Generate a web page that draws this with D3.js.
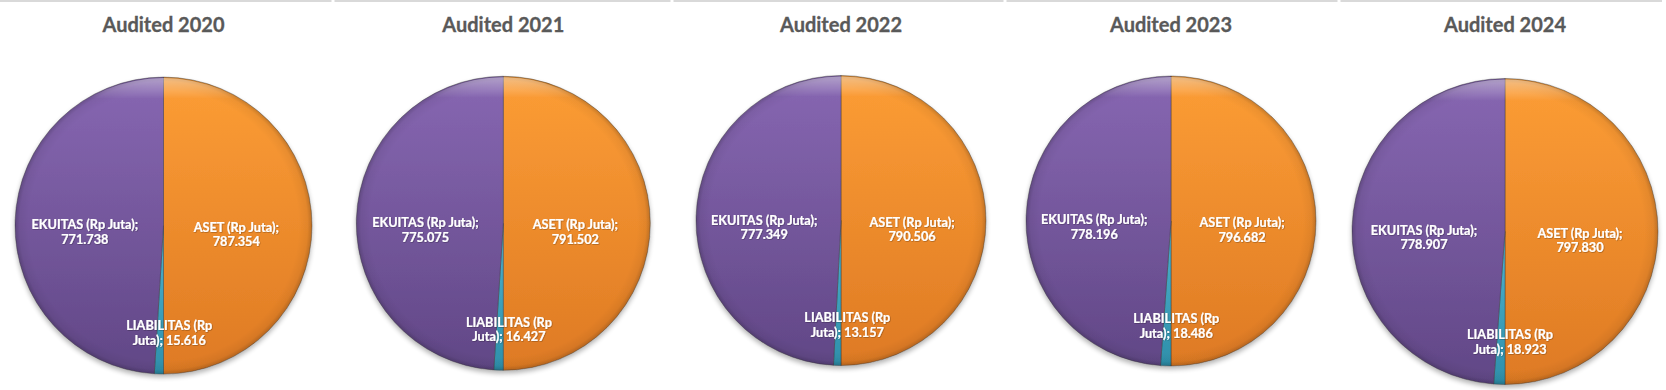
<!DOCTYPE html>
<html>
<head>
<meta charset="utf-8">
<script src="https://cdn.jsdelivr.net/npm/d3@7"></script>
<style>
  html, body { margin: 0; padding: 0; background: #ffffff; }
  svg { display: block; }
</style>
</head>
<body>
<svg id="chart" width="1666" height="390"></svg>
<script>
// ---------- data ----------
const titles = ["Audited 2020", "Audited 2021", "Audited 2022", "Audited 2023", "Audited 2024"];
const categories = ["ASET (Rp Juta)", "LIABILITAS (Rp Juta)", "EKUITAS (Rp Juta)"];
const aset       = [787354, 791502, 790506, 796682, 797830];
const liabilitas = [15616, 16427, 13157, 18486, 18923];
const ekuitas    = [771738, 775075, 777349, 778196, 778907];

// ---------- layout / style ----------
const W = 1666, H = 390;
const pieCx = [163.5, 503.3, 841, 1171, 1505];
const pieCy = [225.6, 223.3, 220.5, 221, 231.5];
const pieR  = [148.5, 147, 145, 145, 153];
const panelEdges = [0, 333, 672, 1005, 1339, 1666];
const colors = {
  "ASET (Rp Juta)":       ["#FC9D35", "#DE7A24"],
  "LIABILITAS (Rp Juta)": ["#4FB3CE", "#2E8FAA"],
  "EKUITAS (Rp Juta)":    ["#8767B2", "#614786"]
};
const labelPlace = {
  "ASET (Rp Juta)":       { k: 0.49, dx: 0, dy: 9 },
  "LIABILITAS (Rp Juta)": { k: 0.71, dx: 9, dy: 2 },
  "EKUITAS (Rp Juta)":    { k: 0.53, dx: 0, dy: 9 }
};

const locale = d3.formatLocale({ decimal: ",", thousands: ".", grouping: [3], currency: ["Rp", ""] });
const fmt = locale.format(",d");

const svg = d3.select("#chart");
const defs = svg.append("defs");

// gradients
Object.entries(colors).forEach(([name, c], i) => {
  const g = defs.append("linearGradient").attr("id", "grad" + i)
    .attr("x1", 0).attr("y1", 0).attr("x2", 0).attr("y2", 1);
  g.append("stop").attr("offset", "0%").attr("stop-color", c[0]);
  g.append("stop").attr("offset", "100%").attr("stop-color", c[1]);
});
const gradId = name => "url(#grad" + Object.keys(colors).indexOf(name) + ")";

// rim shading
const rim = defs.append("radialGradient").attr("id", "rim").attr("cx", "50%").attr("cy", "50%").attr("r", "50%");
rim.append("stop").attr("offset", "91%").attr("stop-color", "#000").attr("stop-opacity", 0);
rim.append("stop").attr("offset", "97%").attr("stop-color", "#000").attr("stop-opacity", 0.05);
rim.append("stop").attr("offset", "100%").attr("stop-color", "#000").attr("stop-opacity", 0.2);

const topHi = defs.append("linearGradient").attr("id", "tophi").attr("x1", 0).attr("y1", 0).attr("x2", 0).attr("y2", 1);
topHi.append("stop").attr("offset", "0%").attr("stop-color", "#fff").attr("stop-opacity", 0.4);
topHi.append("stop").attr("offset", "7%").attr("stop-color", "#fff").attr("stop-opacity", 0);
topHi.append("stop").attr("offset", "100%").attr("stop-color", "#fff").attr("stop-opacity", 0);

const shadow = defs.append("filter").attr("id", "shadow").attr("x", "-10%").attr("y", "-10%").attr("width", "120%").attr("height", "125%");
shadow.append("feGaussianBlur").attr("in", "SourceAlpha").attr("stdDeviation", 2.5).attr("result", "b");
shadow.append("feOffset").attr("in", "b").attr("dx", 0).attr("dy", 2.5).attr("result", "o");
shadow.append("feComponentTransfer").attr("in", "o").attr("result", "s")
  .append("feFuncA").attr("type", "linear").attr("slope", 0.3);
const merge = shadow.append("feMerge");
merge.append("feMergeNode").attr("in", "s");
merge.append("feMergeNode").attr("in", "SourceGraphic");

const txtShadow = defs.append("filter").attr("id", "tshadow").attr("x", "-10%").attr("y", "-30%").attr("width", "120%").attr("height", "160%");
txtShadow.append("feDropShadow").attr("dx", 0.6).attr("dy", 0.6).attr("stdDeviation", 0.6)
  .attr("flood-color", "#000").attr("flood-opacity", 0.35);

// top separator bars
svg.selectAll("rect.topbar").data(d3.range(5)).join("rect")
  .attr("class", "topbar")
  .attr("x", i => panelEdges[i] + (i === 0 ? 0 : 1.5))
  .attr("y", 0)
  .attr("width", i => panelEdges[i + 1] - panelEdges[i] - (i === 0 ? 0 : 1.5) - (i === 4 ? 4 : 1.5))
  .attr("height", 2)
  .attr("fill", "#D9D9D9");

const pie = d3.pie().sort(null).value(d => d.value).startAngle(0).endAngle(2 * Math.PI);

titles.forEach((title, i) => {
  const data = [
    { name: categories[0], value: aset[i] },
    { name: categories[1], value: liabilitas[i] },
    { name: categories[2], value: ekuitas[i] }
  ];
  const R = pieR[i];
  const g = svg.append("g").attr("transform", `translate(${pieCx[i]},${pieCy[i]})`);

  svg.append("text")
    .attr("x", pieCx[i]).attr("y", 32)
    .attr("text-anchor", "middle")
    .attr("font-family", "Lato, 'Open Sans', sans-serif")
    .attr("font-weight", "bold")
    .attr("font-size", 20)
    .attr("fill", "#595959")
    .attr("stroke", "#595959")
    .attr("stroke-width", 0.3)
    .text(title);

  const arcs = pie(data);
  const arc = d3.arc().innerRadius(0).outerRadius(R);

  const pg = g.append("g").attr("filter", "url(#shadow)");
  pg.selectAll("path.slice").data(arcs).join("path")
    .attr("class", "slice")
    .attr("d", arc)
    .attr("fill", d => gradId(d.data.name))
    .attr("stroke", "#3a3a3a")
    .attr("stroke-opacity", 0.5)
    .attr("stroke-width", 0.8)
    .attr("stroke-linejoin", "round");

  g.append("circle").attr("r", R).attr("fill", "url(#rim)").attr("pointer-events", "none");
  g.append("circle").attr("r", R - 1).attr("fill", "url(#tophi)").attr("pointer-events", "none");

  // labels
  arcs.forEach(d => {
    const p = labelPlace[d.data.name];
    const la = d3.arc().innerRadius(R * p.k).outerRadius(R * p.k);
    const [cx, cy] = la.centroid(d);
    const full = d.data.name + "; " + fmt(d.data.value);
    const t = g.append("text")
      .attr("text-anchor", "middle")
      .attr("font-family", "Lato, 'Open Sans', sans-serif")
      .attr("font-weight", "bold")
      .attr("font-size", 12.7)
      .attr("fill", "#ffffff")
      .attr("stroke", "#ffffff")
      .attr("stroke-width", 0.2)
      .attr("filter", "url(#tshadow)");
    const words = full.split(" ");
    const lines = [];
    let cur = "";
    const probe = t.append("tspan");
    words.forEach(w => {
      const test = cur ? cur + " " + w : w;
      probe.text(test);
      if (cur && probe.node().getComputedTextLength() > 114) {
        lines.push(cur); cur = w;
      } else cur = test;
    });
    lines.push(cur);
    probe.remove();
    const lh = 14.8;
    const x = cx + p.dx;
    const y0 = cy + p.dy - (lines.length - 1) * lh / 2;
    lines.forEach((ln, j) => {
      t.append("tspan").attr("x", x).attr("y", y0 + j * lh).attr("dy", "0.35em").text(ln);
    });
  });
});
</script>
</body>
</html>
